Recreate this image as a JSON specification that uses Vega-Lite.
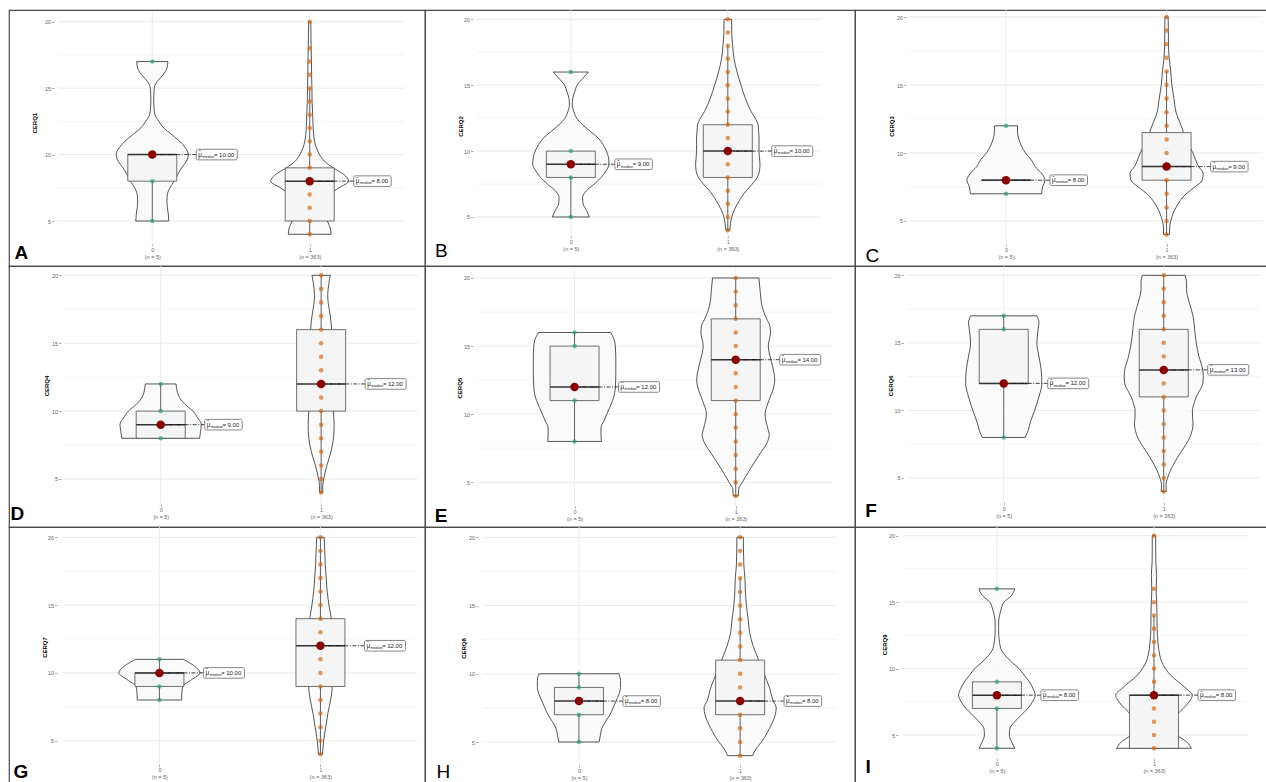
{
"$schema": "https://vega.github.io/schema/vega-lite/v6.json",
"background": "white",
"padding": {"left": 8, "top": 9, "right": 0, "bottom": 0},
"columns": 3,
"spacing": 0,
"align": "each",
"bounds": "flush",
"config": {
  "font": "Liberation Sans",
  "view": {"stroke": "#4a4a4a", "strokeWidth": 1.2},
  "axis": {"domain": false, "grid": false, "tickColor": "#9a9a9a", "tickSize": 2.5, "tickWidth": 0.8, "labelFont": "Liberation Sans", "labelFontSize": 5.5, "labelColor": "#666666", "labelPadding": 1, "titleFont": "Liberation Sans", "titleColor": "#000000"}
},
"datasets": {
  "gr": [{"y": 5}, {"y": 7.5}, {"y": 10}, {"y": 12.5}, {"y": 15}, {"y": 17.5}, {"y": 20}],
  "gx": [{"g": 0}, {"g": 1}],
  "b": [
    {"p":"A","g":0,"q1":8,"m":10,"q3":10,"wl":5,"wh":10},
    {"p":"A","g":1,"q1":5,"m":8,"q3":9,"wl":4,"wh":15},
    {"p":"B","g":0,"q1":8,"m":9,"q3":10,"wl":5,"wh":10},
    {"p":"B","g":1,"q1":8,"m":10,"q3":12,"wl":4,"wh":18},
    {"p":"C","g":0,"q1":8,"m":8,"q3":8,"wl":8,"wh":8},
    {"p":"C","g":1,"q1":8,"m":9,"q3":11.5,"wl":4,"wh":16},
    {"p":"D","g":0,"q1":8,"m":9,"q3":10,"wl":8,"wh":12},
    {"p":"D","g":1,"q1":10,"m":12,"q3":16,"wl":4,"wh":20},
    {"p":"E","g":0,"q1":11,"m":12,"q3":15,"wl":8,"wh":16},
    {"p":"E","g":1,"q1":11,"m":14,"q3":17,"wl":4,"wh":20},
    {"p":"F","g":0,"q1":12,"m":12,"q3":16,"wl":8,"wh":17},
    {"p":"F","g":1,"q1":11,"m":13,"q3":16,"wl":4,"wh":20},
    {"p":"G","g":0,"q1":9,"m":10,"q3":10,"wl":8,"wh":11},
    {"p":"G","g":1,"q1":9,"m":12,"q3":14,"wl":4,"wh":20},
    {"p":"H","g":0,"q1":7,"m":8,"q3":9,"wl":5,"wh":10},
    {"p":"H","g":1,"q1":7,"m":8,"q3":11,"wl":4,"wh":17},
    {"p":"I","g":0,"q1":7,"m":8,"q3":9,"wl":4,"wh":9},
    {"p":"I","g":1,"q1":4,"m":8,"q3":8,"wl":4,"wh":14}
  ],
  "pt": [
    {"p":"A","g":0,"y":[5,8,10,17]},
    {"p":"A","g":1,"y":[4,5,6,7,8,9,10,11,12,13,14,15,16,17,18,20]},
    {"p":"B","g":0,"y":[5,8,9,10,16]},
    {"p":"B","g":1,"y":[4,5,6,7,8,9,10,11,12,13,14,15,16,17,18,19,20]},
    {"p":"C","g":0,"y":[7,8,12]},
    {"p":"C","g":1,"y":[4,5,6,7,8,9,10,11,12,13,14,15,16,17,18,19,20]},
    {"p":"D","g":0,"y":[8,9,10,12]},
    {"p":"D","g":1,"y":[4,5,6,7,8,9,10,11,12,13,14,15,16,17,18,19,20]},
    {"p":"E","g":0,"y":[8,11,12,15,16]},
    {"p":"E","g":1,"y":[4,5,6,7,8,9,10,11,12,13,14,15,16,17,18,19,20]},
    {"p":"F","g":0,"y":[8,12,16,17]},
    {"p":"F","g":1,"y":[4,5,6,7,8,9,10,11,12,13,14,15,16,17,18,19,20]},
    {"p":"G","g":0,"y":[8,9,10,11]},
    {"p":"G","g":1,"y":[4,5,6,7,8,9,10,11,12,13,14,15,16,17,18,19,20]},
    {"p":"H","g":0,"y":[5,7,8,9,10]},
    {"p":"H","g":1,"y":[4,5,6,7,8,9,10,11,12,13,14,15,16,17,18,19,20]},
    {"p":"I","g":0,"y":[4,7,8,9,16]},
    {"p":"I","g":1,"y":[4,5,6,7,8,9,10,11,12,13,14,15,16,20]}
  ],
  "v": [
    {"p":"A","g":0,"y":[5,5.5,6,6.5,7,7.5,8,8.5,9,9.5,10,10.5,11,11.5,12,12.5,13,13.5,14,14.5,15,15.5,16,16.5,17],
     "l":[-0.105,-0.102,-0.096,-0.093,-0.096,-0.112,-0.139,-0.161,-0.186,-0.217,-0.229,-0.211,-0.174,-0.124,-0.073,-0.042,-0.017,-0.011,-0.009,-0.01,-0.012,-0.031,-0.068,-0.093,-0.099],
     "h":[0.105,0.102,0.096,0.093,0.096,0.112,0.139,0.161,0.186,0.217,0.229,0.211,0.174,0.124,0.073,0.042,0.017,0.011,0.009,0.01,0.012,0.031,0.068,0.093,0.099]},
    {"p":"A","g":1,"y":[4,4.5,5,5.5,6,6.5,7,7.5,8,8.5,9,9.5,10,10.5,11,12,13,14,15,16,17,18,19,20],
     "l":[0.864,0.87,0.888,0.901,0.901,0.892,0.87,0.814,0.752,0.783,0.851,0.907,0.938,0.957,0.969,0.978,0.981,0.985,0.986,0.988,0.989,0.991,0.992,0.993],
     "h":[1.136,1.13,1.112,1.099,1.099,1.108,1.13,1.186,1.248,1.217,1.149,1.093,1.062,1.043,1.031,1.022,1.019,1.015,1.014,1.012,1.011,1.009,1.008,1.007]},
    {"p":"B","g":0,"y":[5,5.5,6,6.5,7,7.5,8,8.5,9,9.5,10,10.5,11,11.5,12,12.5,13,13.5,14,14.5,15,15.5,16],
     "l":[-0.118,-0.1,-0.078,-0.075,-0.1,-0.149,-0.193,-0.224,-0.243,-0.24,-0.227,-0.205,-0.174,-0.124,-0.075,-0.037,-0.019,-0.009,-0.012,-0.025,-0.04,-0.075,-0.112],
     "h":[0.118,0.1,0.078,0.075,0.1,0.149,0.193,0.224,0.243,0.24,0.227,0.205,0.174,0.124,0.075,0.037,0.019,0.009,0.012,0.025,0.04,0.075,0.112]},
    {"p":"B","g":1,"y":[4,4.5,5,5.5,6,6.5,7,7.5,8,8.5,9,9.5,10,10.5,11,11.5,12,12.5,13,14,15,16,17,18,19,20],
     "l":[0.988,0.983,0.975,0.96,0.938,0.913,0.882,0.844,0.813,0.798,0.795,0.798,0.801,0.801,0.801,0.804,0.807,0.826,0.851,0.888,0.916,0.941,0.96,0.969,0.975,0.976],
     "h":[1.012,1.017,1.025,1.04,1.062,1.087,1.118,1.156,1.187,1.202,1.205,1.202,1.199,1.199,1.199,1.196,1.193,1.174,1.149,1.112,1.084,1.059,1.04,1.031,1.025,1.024]},
    {"p":"C","g":0,"y":[7,7.5,8,8.5,9,9.5,10,10.5,11,11.5,12],
     "l":[-0.222,-0.228,-0.243,-0.222,-0.182,-0.158,-0.122,-0.097,-0.081,-0.072,-0.072],
     "h":[0.222,0.228,0.243,0.222,0.182,0.158,0.122,0.097,0.081,0.072,0.072]},
    {"p":"C","g":1,"y":[4,4.5,5,6,7,7.5,8,8.5,9,10,11,12,13,14,15,16,17,18,19,20],
     "l":[0.981,0.981,0.974,0.941,0.878,0.824,0.778,0.772,0.8,0.836,0.878,0.909,0.941,0.954,0.967,0.974,0.984,0.988,0.989,0.99],
     "h":[1.019,1.019,1.026,1.059,1.122,1.176,1.222,1.228,1.2,1.164,1.122,1.091,1.059,1.046,1.033,1.026,1.016,1.012,1.011,1.01]},
    {"p":"D","g":0,"y":[8,8.5,9,9.5,10,10.5,11,11.5,12],
     "l":[-0.243,-0.248,-0.254,-0.231,-0.201,-0.152,-0.117,-0.102,-0.096],
     "h":[0.243,0.248,0.254,0.231,0.201,0.152,0.117,0.102,0.096]},
    {"p":"D","g":1,"y":[4,4.5,5,6,7,8,9,10,11,12,13,14,15,16,17,18,18.5,19,20],
     "l":[0.99,0.99,0.984,0.964,0.939,0.923,0.919,0.923,0.919,0.915,0.923,0.935,0.939,0.935,0.943,0.956,0.959,0.956,0.943],
     "h":[1.01,1.01,1.016,1.036,1.061,1.077,1.081,1.077,1.081,1.085,1.077,1.065,1.061,1.065,1.057,1.044,1.041,1.044,1.057]},
    {"p":"E","g":0,"y":[8,8.5,9,9.5,10,10.5,11,11.5,12,13,14,15,15.5,16],
     "l":[-0.167,-0.164,-0.164,-0.182,-0.2,-0.218,-0.236,-0.248,-0.253,-0.256,-0.256,-0.253,-0.245,-0.224],
     "h":[0.167,0.164,0.164,0.182,0.2,0.218,0.236,0.248,0.253,0.256,0.256,0.253,0.245,0.224]},
    {"p":"E","g":1,"y":[4,4.5,5,6,7,8,8.5,9,10,11,12,12.5,13,14,15,16,16.5,17,18,19,20],
     "l":[0.984,0.982,0.959,0.909,0.855,0.802,0.792,0.802,0.818,0.794,0.764,0.758,0.762,0.782,0.798,0.784,0.788,0.808,0.838,0.848,0.856],
     "h":[1.016,1.018,1.041,1.091,1.145,1.198,1.208,1.198,1.182,1.206,1.236,1.242,1.238,1.218,1.202,1.216,1.212,1.192,1.162,1.152,1.144]},
    {"p":"F","g":0,"y":[8,8.5,9,10,11,12,13,14,15,16,16.5,17],
     "l":[-0.134,-0.152,-0.163,-0.193,-0.22,-0.238,-0.234,-0.22,-0.207,-0.215,-0.22,-0.207],
     "h":[0.134,0.152,0.163,0.193,0.22,0.238,0.234,0.22,0.207,0.215,0.22,0.207]},
    {"p":"F","g":1,"y":[4,4.5,5,5.5,6,6.5,7,7.5,8,8.5,9,9.5,10,10.5,11,11.5,12,12.5,13,14,15,16,17,18,19,19.5,20],
     "l":[0.984,0.986,0.976,0.96,0.939,0.915,0.888,0.86,0.837,0.823,0.817,0.82,0.821,0.811,0.797,0.774,0.756,0.753,0.756,0.78,0.797,0.807,0.817,0.841,0.858,0.858,0.866],
     "h":[1.016,1.014,1.024,1.04,1.061,1.085,1.112,1.14,1.163,1.177,1.183,1.18,1.179,1.189,1.203,1.226,1.244,1.247,1.244,1.22,1.203,1.193,1.183,1.159,1.142,1.142,1.134]},
    {"p":"G","g":0,"y":[8,8.5,9,9.5,10,10.5,11],
     "l":[-0.138,-0.139,-0.145,-0.2,-0.252,-0.218,-0.149],
     "h":[0.138,0.139,0.145,0.2,0.252,0.218,0.149]},
    {"p":"G","g":1,"y":[4,5,6,7,8,9,10,11,12,13,14,15,16,17,18,19,20],
     "l":[0.987,0.98,0.967,0.954,0.937,0.927,0.933,0.944,0.933,0.924,0.933,0.947,0.958,0.964,0.97,0.973,0.977],
     "h":[1.013,1.02,1.033,1.046,1.063,1.073,1.067,1.056,1.067,1.076,1.067,1.053,1.042,1.036,1.03,1.027,1.023]},
    {"p":"H","g":0,"y":[5,5.5,6,6.5,7,7.5,8,8.5,9,9.5,10],
     "l":[-0.125,-0.133,-0.142,-0.165,-0.192,-0.212,-0.23,-0.248,-0.258,-0.258,-0.248],
     "h":[0.125,0.133,0.142,0.165,0.192,0.212,0.23,0.248,0.258,0.258,0.248]},
    {"p":"H","g":1,"y":[4,4.5,5,6,7,7.5,8,9,10,11,12,13,14,15,16,17,18,19,20],
     "l":[0.922,0.901,0.868,0.818,0.782,0.776,0.795,0.818,0.852,0.885,0.918,0.941,0.95,0.961,0.967,0.97,0.977,0.979,0.98],
     "h":[1.078,1.099,1.132,1.182,1.218,1.224,1.205,1.182,1.148,1.115,1.082,1.059,1.05,1.039,1.033,1.03,1.023,1.021,1.02]},
    {"p":"I","g":0,"y":[4,4.5,5,5.5,6,6.5,7,7.5,8,8.5,9,9.5,10,10.5,11,11.5,12,12.5,13,13.5,14,14.5,15,15.5,16],
     "l":[-0.114,-0.093,-0.079,-0.083,-0.114,-0.155,-0.197,-0.227,-0.244,-0.23,-0.207,-0.174,-0.141,-0.093,-0.052,-0.025,-0.017,-0.012,-0.011,-0.011,-0.017,-0.028,-0.045,-0.093,-0.114],
     "h":[0.114,0.093,0.079,0.083,0.114,0.155,0.197,0.227,0.244,0.23,0.207,0.174,0.141,0.093,0.052,0.025,0.017,0.012,0.011,0.011,0.017,0.028,0.045,0.093,0.114]},
    {"p":"I","g":1,"y":[4,4.5,5,5.5,6,6.5,7,7.5,8,8.5,9,9.5,10,10.5,11,12,13,14,15,16,17,18,19,20],
     "l":[0.762,0.793,0.855,0.886,0.886,0.857,0.814,0.776,0.756,0.795,0.845,0.894,0.927,0.95,0.963,0.975,0.98,0.981,0.983,0.986,0.983,0.988,0.989,0.989],
     "h":[1.238,1.207,1.145,1.114,1.114,1.143,1.186,1.224,1.244,1.205,1.155,1.106,1.073,1.05,1.037,1.025,1.02,1.019,1.017,1.014,1.017,1.012,1.011,1.011]}
  ]
},
"concat": [
{"width":416,"height":256,"layer":[
{"data":{"name":"gr"},"mark":{"type":"rule","stroke":"#e9e9e9","clip":true},"encoding":{"y":{"field":"y","type":"quantitative"},"x":{"datum":-0.6},"x2":{"datum":1.6},"strokeWidth":{"condition":{"test":"datum.y % 5 == 0","value":1},"value":0.5}}},
{"data":{"name":"gx"},"mark":{"type":"rule","stroke":"#e9e9e9","strokeWidth":0.9,"clip":true},"encoding":{"x":{"field":"g","type":"quantitative"},"y":{"datum":3.2},"y2":{"datum":20.8}}},
{"data":{"name":"v"},"transform":[{"filter":"datum.p=='A'"},{"flatten":["y","l","h"]}],"mark":{"type":"area","orient":"horizontal","interpolate":"monotone","fill":"#f9f9f9","fillOpacity":0.85,"stroke":"#2b2b2b","strokeWidth":0.8},"encoding":{"y":{"field":"y","type":"quantitative","scale":{"domain":[1.614,20.88],"nice":false,"zero":false},"axis":{"values":[5,10,15,20],"offset":-45,"title":"CERQ1","titleFontSize":6,"titleFontWeight":"bold","titleX":-19.7,"titleY":112.7,"titleAngle":-90,"titleAlign":"center","titleBaseline":"middle"}},"x":{"field":"l","type":"quantitative","scale":{"domain":[-0.8785,1.7006],"nice":false,"zero":false},"axis":{"values":[0,1],"offset":-22.5,"labelExpr":"datum.value == 0 ? ['0', '(n = 5)'] : ['1', '(n = 363)']","labelLineHeight":7,"title":"A","titleFontSize":19,"titleFontWeight":"bold","titleX":5,"titleY":14.8,"titleAlign":"left","titleBaseline":"alphabetic"}},"x2":{"field":"h"},"detail":{"field":"g","type":"nominal"}}},
{"data":{"name":"b"},"transform":[{"filter":"datum.p=='A'"}],"encoding":{"x":{"field":"g","type":"quantitative"},"y":{"field":"m","type":"quantitative"}},"layer":[
{"mark":{"type":"rule","stroke":"#3a3a3a","strokeWidth":0.8},"encoding":{"y":{"field":"wl","type":"quantitative"},"y2":{"field":"wh"}}},
{"mark":{"type":"bar","width":49,"fill":"#f5f5f5","stroke":"#4d4d4d","strokeWidth":0.8},"encoding":{"y":{"field":"q1","type":"quantitative"},"y2":{"field":"q3"}}},
{"mark":{"type":"tick","orient":"horizontal","size":49,"thickness":1.5,"color":"#333333","opacity":1}}]},
{"data":{"name":"pt"},"transform":[{"filter":"datum.p=='A'"},{"flatten":["y"]}],"mark":{"type":"circle","size":20,"opacity":0.65},"encoding":{"x":{"field":"g","type":"quantitative"},"y":{"field":"y","type":"quantitative"},"color":{"condition":{"test":"datum.g == 0","value":"#1b9e77"},"value":"#d95f02"}}},
{"data":{"name":"b"},"transform":[{"filter":"datum.p=='A'"}],"encoding":{"x":{"field":"g","type":"quantitative"},"y":{"field":"m","type":"quantitative"}},"layer":[
{"mark":{"type":"point","shape":"M0,0H44","size":4,"filled":false,"stroke":"#111111","strokeWidth":0.8,"strokeDash":[4,1.5,1,1.5],"opacity":1}},
{"mark":{"type":"circle","size":72,"color":"#8b0000","opacity":1}},
{"mark":{"type":"point","filled":true,"fill":"#ffffff","stroke":"#555555","strokeWidth":0.7,"size":4,"opacity":1},"encoding":{"shape":{"condition":{"test":"datum.m >= 10","value":"M45.5,-5.3H83.5A1.5,1.5 0 0 1 85,-3.8V3.8A1.5,1.5 0 0 1 83.5,5.3H45.5A1.5,1.5 0 0 1 44,3.8V-3.8A1.5,1.5 0 0 1 45.5,-5.3Z"},"value":"M45.5,-5.3H80A1.5,1.5 0 0 1 81.5,-3.8V3.8A1.5,1.5 0 0 1 80,5.3H45.5A1.5,1.5 0 0 1 44,3.8V-3.8A1.5,1.5 0 0 1 45.5,-5.3Z"}}},
{"mark":{"type":"text","text":"\u03bc","dx":46,"dy":0,"align":"left","baseline":"middle","fontSize":6.3,"color":"#222222"}},
{"mark":{"type":"text","text":"\u02c6","dx":46.6,"dy":-2.6,"align":"left","baseline":"middle","fontSize":5.5,"color":"#222222"}},
{"mark":{"type":"text","text":"median","dx":50,"dy":2.3,"align":"left","baseline":"middle","fontSize":3.7,"color":"#222222"}},
{"mark":{"type":"text","text":"=","dx":61.8,"align":"left","baseline":"middle","fontSize":6,"color":"#222222"}},
{"mark":{"type":"text","dx":66.8,"align":"left","baseline":"middle","fontSize":6,"color":"#222222"},"encoding":{"text":{"field":"m","type":"quantitative","format":".2f"}}}]}
]},
{"width":430,"height":256,"layer":[
{"data":{"name":"gr"},"mark":{"type":"rule","stroke":"#e9e9e9","clip":true},"encoding":{"y":{"field":"y","type":"quantitative"},"x":{"datum":-0.6},"x2":{"datum":1.6},"strokeWidth":{"condition":{"test":"datum.y % 5 == 0","value":1},"value":0.5}}},
{"data":{"name":"gx"},"mark":{"type":"rule","stroke":"#e9e9e9","strokeWidth":0.9,"clip":true},"encoding":{"x":{"field":"g","type":"quantitative"},"y":{"datum":3.2},"y2":{"datum":20.8}}},
{"data":{"name":"v"},"transform":[{"filter":"datum.p=='B'"},{"flatten":["y","l","h"]}],"mark":{"type":"area","orient":"horizontal","interpolate":"monotone","fill":"#f9f9f9","fillOpacity":0.85,"stroke":"#2b2b2b","strokeWidth":0.8},"encoding":{"y":{"field":"y","type":"quantitative","scale":{"domain":[1.282,20.706],"nice":false,"zero":false},"axis":{"values":[5,10,15,20],"offset":-48,"title":"CERQ2","titleFontSize":6,"titleFontWeight":"bold","titleX":-13,"titleY":116,"titleAngle":-90,"titleAlign":"center","titleBaseline":"middle"}},"x":{"field":"l","type":"quantitative","scale":{"domain":[-0.8973,1.7785],"nice":false,"zero":false},"axis":{"values":[0,1],"offset":-30.5,"labelExpr":"datum.value == 0 ? ['0', '(n = 5)'] : ['1', '(n = 363)']","labelLineHeight":7,"title":"B","titleFontSize":19,"titleFontWeight":"normal","titleX":9.5,"titleY":20.5,"titleAlign":"left","titleBaseline":"alphabetic"}},"x2":{"field":"h"},"detail":{"field":"g","type":"nominal"}}},
{"data":{"name":"b"},"transform":[{"filter":"datum.p=='B'"}],"encoding":{"x":{"field":"g","type":"quantitative"},"y":{"field":"m","type":"quantitative"}},"layer":[
{"mark":{"type":"rule","stroke":"#3a3a3a","strokeWidth":0.8},"encoding":{"y":{"field":"wl","type":"quantitative"},"y2":{"field":"wh"}}},
{"mark":{"type":"bar","width":49,"fill":"#f5f5f5","stroke":"#4d4d4d","strokeWidth":0.8},"encoding":{"y":{"field":"q1","type":"quantitative"},"y2":{"field":"q3"}}},
{"mark":{"type":"tick","orient":"horizontal","size":49,"thickness":1.5,"color":"#333333","opacity":1}}]},
{"data":{"name":"pt"},"transform":[{"filter":"datum.p=='B'"},{"flatten":["y"]}],"mark":{"type":"circle","size":20,"opacity":0.65},"encoding":{"x":{"field":"g","type":"quantitative"},"y":{"field":"y","type":"quantitative"},"color":{"condition":{"test":"datum.g == 0","value":"#1b9e77"},"value":"#d95f02"}}},
{"data":{"name":"b"},"transform":[{"filter":"datum.p=='B'"}],"encoding":{"x":{"field":"g","type":"quantitative"},"y":{"field":"m","type":"quantitative"}},"layer":[
{"mark":{"type":"point","shape":"M0,0H44","size":4,"filled":false,"stroke":"#111111","strokeWidth":0.8,"strokeDash":[4,1.5,1,1.5],"opacity":1}},
{"mark":{"type":"circle","size":72,"color":"#8b0000","opacity":1}},
{"mark":{"type":"point","filled":true,"fill":"#ffffff","stroke":"#555555","strokeWidth":0.7,"size":4,"opacity":1},"encoding":{"shape":{"condition":{"test":"datum.m >= 10","value":"M45.5,-5.3H83.5A1.5,1.5 0 0 1 85,-3.8V3.8A1.5,1.5 0 0 1 83.5,5.3H45.5A1.5,1.5 0 0 1 44,3.8V-3.8A1.5,1.5 0 0 1 45.5,-5.3Z"},"value":"M45.5,-5.3H80A1.5,1.5 0 0 1 81.5,-3.8V3.8A1.5,1.5 0 0 1 80,5.3H45.5A1.5,1.5 0 0 1 44,3.8V-3.8A1.5,1.5 0 0 1 45.5,-5.3Z"}}},
{"mark":{"type":"text","text":"\u03bc","dx":46,"dy":0,"align":"left","baseline":"middle","fontSize":6.3,"color":"#222222"}},
{"mark":{"type":"text","text":"\u02c6","dx":46.6,"dy":-2.6,"align":"left","baseline":"middle","fontSize":5.5,"color":"#222222"}},
{"mark":{"type":"text","text":"median","dx":50,"dy":2.3,"align":"left","baseline":"middle","fontSize":3.7,"color":"#222222"}},
{"mark":{"type":"text","text":"=","dx":61.8,"align":"left","baseline":"middle","fontSize":6,"color":"#222222"}},
{"mark":{"type":"text","dx":66.8,"align":"left","baseline":"middle","fontSize":6,"color":"#222222"},"encoding":{"text":{"field":"m","type":"quantitative","format":".2f"}}}]}
]},
{"width":412,"height":256,"layer":[
{"data":{"name":"gr"},"mark":{"type":"rule","stroke":"#e9e9e9","clip":true},"encoding":{"y":{"field":"y","type":"quantitative"},"x":{"datum":-0.6},"x2":{"datum":1.6},"strokeWidth":{"condition":{"test":"datum.y % 5 == 0","value":1},"value":0.5}}},
{"data":{"name":"gx"},"mark":{"type":"rule","stroke":"#e9e9e9","strokeWidth":0.9,"clip":true},"encoding":{"x":{"field":"g","type":"quantitative"},"y":{"datum":3.2},"y2":{"datum":20.8}}},
{"data":{"name":"v"},"transform":[{"filter":"datum.p=='C'"},{"flatten":["y","l","h"]}],"mark":{"type":"area","orient":"horizontal","interpolate":"monotone","fill":"#f9f9f9","fillOpacity":0.85,"stroke":"#2b2b2b","strokeWidth":0.8},"encoding":{"y":{"field":"y","type":"quantitative","scale":{"domain":[1.691,20.515],"nice":false,"zero":false},"axis":{"values":[5,10,15,20],"offset":-51,"title":"CERQ3","titleFontSize":6,"titleFontWeight":"bold","titleX":-14.3,"titleY":116,"titleAngle":-90,"titleAlign":"center","titleBaseline":"middle"}},"x":{"field":"l","type":"quantitative","scale":{"domain":[-0.9089,1.5942],"nice":false,"zero":false},"axis":{"values":[0,1],"offset":-22.2,"labelExpr":"datum.value == 0 ? ['0', '(n = 5)'] : ['1', '(n = 363)']","labelLineHeight":7,"title":"C","titleFontSize":19,"titleFontWeight":"normal","titleX":10,"titleY":17.2,"titleAlign":"left","titleBaseline":"alphabetic"}},"x2":{"field":"h"},"detail":{"field":"g","type":"nominal"}}},
{"data":{"name":"b"},"transform":[{"filter":"datum.p=='C'"}],"encoding":{"x":{"field":"g","type":"quantitative"},"y":{"field":"m","type":"quantitative"}},"layer":[
{"mark":{"type":"rule","stroke":"#3a3a3a","strokeWidth":0.8},"encoding":{"y":{"field":"wl","type":"quantitative"},"y2":{"field":"wh"}}},
{"mark":{"type":"bar","width":49,"fill":"#f5f5f5","stroke":"#4d4d4d","strokeWidth":0.8},"encoding":{"y":{"field":"q1","type":"quantitative"},"y2":{"field":"q3"}}},
{"mark":{"type":"tick","orient":"horizontal","size":49,"thickness":1.5,"color":"#333333","opacity":1}}]},
{"data":{"name":"pt"},"transform":[{"filter":"datum.p=='C'"},{"flatten":["y"]}],"mark":{"type":"circle","size":20,"opacity":0.65},"encoding":{"x":{"field":"g","type":"quantitative"},"y":{"field":"y","type":"quantitative"},"color":{"condition":{"test":"datum.g == 0","value":"#1b9e77"},"value":"#d95f02"}}},
{"data":{"name":"b"},"transform":[{"filter":"datum.p=='C'"}],"encoding":{"x":{"field":"g","type":"quantitative"},"y":{"field":"m","type":"quantitative"}},"layer":[
{"mark":{"type":"point","shape":"M0,0H44","size":4,"filled":false,"stroke":"#111111","strokeWidth":0.8,"strokeDash":[4,1.5,1,1.5],"opacity":1}},
{"mark":{"type":"circle","size":72,"color":"#8b0000","opacity":1}},
{"mark":{"type":"point","filled":true,"fill":"#ffffff","stroke":"#555555","strokeWidth":0.7,"size":4,"opacity":1},"encoding":{"shape":{"condition":{"test":"datum.m >= 10","value":"M45.5,-5.3H83.5A1.5,1.5 0 0 1 85,-3.8V3.8A1.5,1.5 0 0 1 83.5,5.3H45.5A1.5,1.5 0 0 1 44,3.8V-3.8A1.5,1.5 0 0 1 45.5,-5.3Z"},"value":"M45.5,-5.3H80A1.5,1.5 0 0 1 81.5,-3.8V3.8A1.5,1.5 0 0 1 80,5.3H45.5A1.5,1.5 0 0 1 44,3.8V-3.8A1.5,1.5 0 0 1 45.5,-5.3Z"}}},
{"mark":{"type":"text","text":"\u03bc","dx":46,"dy":0,"align":"left","baseline":"middle","fontSize":6.3,"color":"#222222"}},
{"mark":{"type":"text","text":"\u02c6","dx":46.6,"dy":-2.6,"align":"left","baseline":"middle","fontSize":5.5,"color":"#222222"}},
{"mark":{"type":"text","text":"median","dx":50,"dy":2.3,"align":"left","baseline":"middle","fontSize":3.7,"color":"#222222"}},
{"mark":{"type":"text","text":"=","dx":61.8,"align":"left","baseline":"middle","fontSize":6,"color":"#222222"}},
{"mark":{"type":"text","dx":66.8,"align":"left","baseline":"middle","fontSize":6,"color":"#222222"},"encoding":{"text":{"field":"m","type":"quantitative","format":".2f"}}}]}
]},
{"width":416,"height":261,"layer":[
{"data":{"name":"gr"},"mark":{"type":"rule","stroke":"#e9e9e9","clip":true},"encoding":{"y":{"field":"y","type":"quantitative"},"x":{"datum":-0.6},"x2":{"datum":1.6},"strokeWidth":{"condition":{"test":"datum.y % 5 == 0","value":1},"value":0.5}}},
{"data":{"name":"gx"},"mark":{"type":"rule","stroke":"#e9e9e9","strokeWidth":0.9,"clip":true},"encoding":{"x":{"field":"g","type":"quantitative"},"y":{"datum":3.2},"y2":{"datum":20.8}}},
{"data":{"name":"v"},"transform":[{"filter":"datum.p=='D'"},{"flatten":["y","l","h"]}],"mark":{"type":"area","orient":"horizontal","interpolate":"monotone","fill":"#f9f9f9","fillOpacity":0.85,"stroke":"#2b2b2b","strokeWidth":0.8},"encoding":{"y":{"field":"y","type":"quantitative","scale":{"domain":[1.465,20.685],"nice":false,"zero":false},"axis":{"values":[5,10,15,20],"offset":-52,"title":"CERQ4","titleFontSize":6,"titleFontWeight":"bold","titleX":-15,"titleY":119.5,"titleAngle":-90,"titleAlign":"center","titleBaseline":"middle"}},"x":{"field":"l","type":"quantitative","scale":{"domain":[-0.9142,1.6162],"nice":false,"zero":false},"axis":{"values":[0,1],"offset":-22.8,"labelExpr":"datum.value == 0 ? ['0', '(n = 5)'] : ['1', '(n = 363)']","labelLineHeight":7,"title":"D","titleFontSize":19,"titleFontWeight":"bold","titleX":1,"titleY":14.8,"titleAlign":"left","titleBaseline":"alphabetic"}},"x2":{"field":"h"},"detail":{"field":"g","type":"nominal"}}},
{"data":{"name":"b"},"transform":[{"filter":"datum.p=='D'"}],"encoding":{"x":{"field":"g","type":"quantitative"},"y":{"field":"m","type":"quantitative"}},"layer":[
{"mark":{"type":"rule","stroke":"#3a3a3a","strokeWidth":0.8},"encoding":{"y":{"field":"wl","type":"quantitative"},"y2":{"field":"wh"}}},
{"mark":{"type":"bar","width":49,"fill":"#f5f5f5","stroke":"#4d4d4d","strokeWidth":0.8},"encoding":{"y":{"field":"q1","type":"quantitative"},"y2":{"field":"q3"}}},
{"mark":{"type":"tick","orient":"horizontal","size":49,"thickness":1.5,"color":"#333333","opacity":1}}]},
{"data":{"name":"pt"},"transform":[{"filter":"datum.p=='D'"},{"flatten":["y"]}],"mark":{"type":"circle","size":20,"opacity":0.65},"encoding":{"x":{"field":"g","type":"quantitative"},"y":{"field":"y","type":"quantitative"},"color":{"condition":{"test":"datum.g == 0","value":"#1b9e77"},"value":"#d95f02"}}},
{"data":{"name":"b"},"transform":[{"filter":"datum.p=='D'"}],"encoding":{"x":{"field":"g","type":"quantitative"},"y":{"field":"m","type":"quantitative"}},"layer":[
{"mark":{"type":"point","shape":"M0,0H44","size":4,"filled":false,"stroke":"#111111","strokeWidth":0.8,"strokeDash":[4,1.5,1,1.5],"opacity":1}},
{"mark":{"type":"circle","size":72,"color":"#8b0000","opacity":1}},
{"mark":{"type":"point","filled":true,"fill":"#ffffff","stroke":"#555555","strokeWidth":0.7,"size":4,"opacity":1},"encoding":{"shape":{"condition":{"test":"datum.m >= 10","value":"M45.5,-5.3H83.5A1.5,1.5 0 0 1 85,-3.8V3.8A1.5,1.5 0 0 1 83.5,5.3H45.5A1.5,1.5 0 0 1 44,3.8V-3.8A1.5,1.5 0 0 1 45.5,-5.3Z"},"value":"M45.5,-5.3H80A1.5,1.5 0 0 1 81.5,-3.8V3.8A1.5,1.5 0 0 1 80,5.3H45.5A1.5,1.5 0 0 1 44,3.8V-3.8A1.5,1.5 0 0 1 45.5,-5.3Z"}}},
{"mark":{"type":"text","text":"\u03bc","dx":46,"dy":0,"align":"left","baseline":"middle","fontSize":6.3,"color":"#222222"}},
{"mark":{"type":"text","text":"\u02c6","dx":46.6,"dy":-2.6,"align":"left","baseline":"middle","fontSize":5.5,"color":"#222222"}},
{"mark":{"type":"text","text":"median","dx":50,"dy":2.3,"align":"left","baseline":"middle","fontSize":3.7,"color":"#222222"}},
{"mark":{"type":"text","text":"=","dx":61.8,"align":"left","baseline":"middle","fontSize":6,"color":"#222222"}},
{"mark":{"type":"text","dx":66.8,"align":"left","baseline":"middle","fontSize":6,"color":"#222222"},"encoding":{"text":{"field":"m","type":"quantitative","format":".2f"}}}]}
]},
{"width":430,"height":261,"layer":[
{"data":{"name":"gr"},"mark":{"type":"rule","stroke":"#e9e9e9","clip":true},"encoding":{"y":{"field":"y","type":"quantitative"},"x":{"datum":-0.6},"x2":{"datum":1.6},"strokeWidth":{"condition":{"test":"datum.y % 5 == 0","value":1},"value":0.5}}},
{"data":{"name":"gx"},"mark":{"type":"rule","stroke":"#e9e9e9","strokeWidth":0.9,"clip":true},"encoding":{"x":{"field":"g","type":"quantitative"},"y":{"datum":3.2},"y2":{"datum":20.8}}},
{"data":{"name":"v"},"transform":[{"filter":"datum.p=='E'"},{"flatten":["y","l","h"]}],"mark":{"type":"area","orient":"horizontal","interpolate":"monotone","fill":"#f9f9f9","fillOpacity":0.85,"stroke":"#2b2b2b","strokeWidth":0.8},"encoding":{"y":{"field":"y","type":"quantitative","scale":{"domain":[1.718,20.881],"nice":false,"zero":false},"axis":{"values":[5,10,15,20],"offset":-48,"title":"CERQ5","titleFontSize":6,"titleFontWeight":"bold","titleX":-13.3,"titleY":121.7,"titleAngle":-90,"titleAlign":"center","titleBaseline":"middle"}},"x":{"field":"l","type":"quantitative","scale":{"domain":[-0.897,1.7091],"nice":false,"zero":false},"axis":{"values":[0,1],"offset":-21.2,"labelExpr":"datum.value == 0 ? ['0', '(n = 5)'] : ['1', '(n = 363)']","labelLineHeight":7,"title":"E","titleFontSize":19,"titleFontWeight":"bold","titleX":9.2,"titleY":15.5,"titleAlign":"left","titleBaseline":"alphabetic"}},"x2":{"field":"h"},"detail":{"field":"g","type":"nominal"}}},
{"data":{"name":"b"},"transform":[{"filter":"datum.p=='E'"}],"encoding":{"x":{"field":"g","type":"quantitative"},"y":{"field":"m","type":"quantitative"}},"layer":[
{"mark":{"type":"rule","stroke":"#3a3a3a","strokeWidth":0.8},"encoding":{"y":{"field":"wl","type":"quantitative"},"y2":{"field":"wh"}}},
{"mark":{"type":"bar","width":49,"fill":"#f5f5f5","stroke":"#4d4d4d","strokeWidth":0.8},"encoding":{"y":{"field":"q1","type":"quantitative"},"y2":{"field":"q3"}}},
{"mark":{"type":"tick","orient":"horizontal","size":49,"thickness":1.5,"color":"#333333","opacity":1}}]},
{"data":{"name":"pt"},"transform":[{"filter":"datum.p=='E'"},{"flatten":["y"]}],"mark":{"type":"circle","size":20,"opacity":0.65},"encoding":{"x":{"field":"g","type":"quantitative"},"y":{"field":"y","type":"quantitative"},"color":{"condition":{"test":"datum.g == 0","value":"#1b9e77"},"value":"#d95f02"}}},
{"data":{"name":"b"},"transform":[{"filter":"datum.p=='E'"}],"encoding":{"x":{"field":"g","type":"quantitative"},"y":{"field":"m","type":"quantitative"}},"layer":[
{"mark":{"type":"point","shape":"M0,0H44","size":4,"filled":false,"stroke":"#111111","strokeWidth":0.8,"strokeDash":[4,1.5,1,1.5],"opacity":1}},
{"mark":{"type":"circle","size":72,"color":"#8b0000","opacity":1}},
{"mark":{"type":"point","filled":true,"fill":"#ffffff","stroke":"#555555","strokeWidth":0.7,"size":4,"opacity":1},"encoding":{"shape":{"condition":{"test":"datum.m >= 10","value":"M45.5,-5.3H83.5A1.5,1.5 0 0 1 85,-3.8V3.8A1.5,1.5 0 0 1 83.5,5.3H45.5A1.5,1.5 0 0 1 44,3.8V-3.8A1.5,1.5 0 0 1 45.5,-5.3Z"},"value":"M45.5,-5.3H80A1.5,1.5 0 0 1 81.5,-3.8V3.8A1.5,1.5 0 0 1 80,5.3H45.5A1.5,1.5 0 0 1 44,3.8V-3.8A1.5,1.5 0 0 1 45.5,-5.3Z"}}},
{"mark":{"type":"text","text":"\u03bc","dx":46,"dy":0,"align":"left","baseline":"middle","fontSize":6.3,"color":"#222222"}},
{"mark":{"type":"text","text":"\u02c6","dx":46.6,"dy":-2.6,"align":"left","baseline":"middle","fontSize":5.5,"color":"#222222"}},
{"mark":{"type":"text","text":"median","dx":50,"dy":2.3,"align":"left","baseline":"middle","fontSize":3.7,"color":"#222222"}},
{"mark":{"type":"text","text":"=","dx":61.8,"align":"left","baseline":"middle","fontSize":6,"color":"#222222"}},
{"mark":{"type":"text","dx":66.8,"align":"left","baseline":"middle","fontSize":6,"color":"#222222"},"encoding":{"text":{"field":"m","type":"quantitative","format":".2f"}}}]}
]},
{"width":412,"height":261,"layer":[
{"data":{"name":"gr"},"mark":{"type":"rule","stroke":"#e9e9e9","clip":true},"encoding":{"y":{"field":"y","type":"quantitative"},"x":{"datum":-0.6},"x2":{"datum":1.6},"strokeWidth":{"condition":{"test":"datum.y % 5 == 0","value":1},"value":0.5}}},
{"data":{"name":"gx"},"mark":{"type":"rule","stroke":"#e9e9e9","strokeWidth":0.9,"clip":true},"encoding":{"x":{"field":"g","type":"quantitative"},"y":{"datum":3.2},"y2":{"datum":20.8}}},
{"data":{"name":"v"},"transform":[{"filter":"datum.p=='F'"},{"flatten":["y","l","h"]}],"mark":{"type":"area","orient":"horizontal","interpolate":"monotone","fill":"#f9f9f9","fillOpacity":0.85,"stroke":"#2b2b2b","strokeWidth":0.8},"encoding":{"y":{"field":"y","type":"quantitative","scale":{"domain":[1.373,20.688],"nice":false,"zero":false},"axis":{"values":[5,10,15,20],"offset":-48.5,"title":"CERQ6","titleFontSize":6,"titleFontWeight":"bold","titleX":-12.7,"titleY":119.3,"titleAngle":-90,"titleAlign":"center","titleBaseline":"middle"}},"x":{"field":"l","type":"quantitative","scale":{"domain":[-0.8982,1.614],"nice":false,"zero":false},"axis":{"values":[0,1],"offset":-24.5,"labelExpr":"datum.value == 0 ? ['0', '(n = 5)'] : ['1', '(n = 363)']","labelLineHeight":7,"title":"F","titleFontSize":19,"titleFontWeight":"bold","titleX":9.8,"titleY":13.8,"titleAlign":"left","titleBaseline":"alphabetic"}},"x2":{"field":"h"},"detail":{"field":"g","type":"nominal"}}},
{"data":{"name":"b"},"transform":[{"filter":"datum.p=='F'"}],"encoding":{"x":{"field":"g","type":"quantitative"},"y":{"field":"m","type":"quantitative"}},"layer":[
{"mark":{"type":"rule","stroke":"#3a3a3a","strokeWidth":0.8},"encoding":{"y":{"field":"wl","type":"quantitative"},"y2":{"field":"wh"}}},
{"mark":{"type":"bar","width":49,"fill":"#f5f5f5","stroke":"#4d4d4d","strokeWidth":0.8},"encoding":{"y":{"field":"q1","type":"quantitative"},"y2":{"field":"q3"}}},
{"mark":{"type":"tick","orient":"horizontal","size":49,"thickness":1.5,"color":"#333333","opacity":1}}]},
{"data":{"name":"pt"},"transform":[{"filter":"datum.p=='F'"},{"flatten":["y"]}],"mark":{"type":"circle","size":20,"opacity":0.65},"encoding":{"x":{"field":"g","type":"quantitative"},"y":{"field":"y","type":"quantitative"},"color":{"condition":{"test":"datum.g == 0","value":"#1b9e77"},"value":"#d95f02"}}},
{"data":{"name":"b"},"transform":[{"filter":"datum.p=='F'"}],"encoding":{"x":{"field":"g","type":"quantitative"},"y":{"field":"m","type":"quantitative"}},"layer":[
{"mark":{"type":"point","shape":"M0,0H44","size":4,"filled":false,"stroke":"#111111","strokeWidth":0.8,"strokeDash":[4,1.5,1,1.5],"opacity":1}},
{"mark":{"type":"circle","size":72,"color":"#8b0000","opacity":1}},
{"mark":{"type":"point","filled":true,"fill":"#ffffff","stroke":"#555555","strokeWidth":0.7,"size":4,"opacity":1},"encoding":{"shape":{"condition":{"test":"datum.m >= 10","value":"M45.5,-5.3H83.5A1.5,1.5 0 0 1 85,-3.8V3.8A1.5,1.5 0 0 1 83.5,5.3H45.5A1.5,1.5 0 0 1 44,3.8V-3.8A1.5,1.5 0 0 1 45.5,-5.3Z"},"value":"M45.5,-5.3H80A1.5,1.5 0 0 1 81.5,-3.8V3.8A1.5,1.5 0 0 1 80,5.3H45.5A1.5,1.5 0 0 1 44,3.8V-3.8A1.5,1.5 0 0 1 45.5,-5.3Z"}}},
{"mark":{"type":"text","text":"\u03bc","dx":46,"dy":0,"align":"left","baseline":"middle","fontSize":6.3,"color":"#222222"}},
{"mark":{"type":"text","text":"\u02c6","dx":46.6,"dy":-2.6,"align":"left","baseline":"middle","fontSize":5.5,"color":"#222222"}},
{"mark":{"type":"text","text":"median","dx":50,"dy":2.3,"align":"left","baseline":"middle","fontSize":3.7,"color":"#222222"}},
{"mark":{"type":"text","text":"=","dx":61.8,"align":"left","baseline":"middle","fontSize":6,"color":"#222222"}},
{"mark":{"type":"text","dx":66.8,"align":"left","baseline":"middle","fontSize":6,"color":"#222222"},"encoding":{"text":{"field":"m","type":"quantitative","format":".2f"}}}]}
]},
{"width":416,"height":256,"layer":[
{"data":{"name":"gr"},"mark":{"type":"rule","stroke":"#e9e9e9","clip":true},"encoding":{"y":{"field":"y","type":"quantitative"},"x":{"datum":-0.6},"x2":{"datum":1.6},"strokeWidth":{"condition":{"test":"datum.y % 5 == 0","value":1},"value":0.5}}},
{"data":{"name":"gx"},"mark":{"type":"rule","stroke":"#e9e9e9","strokeWidth":0.9,"clip":true},"encoding":{"x":{"field":"g","type":"quantitative"},"y":{"datum":3.2},"y2":{"datum":20.8}}},
{"data":{"name":"v"},"transform":[{"filter":"datum.p=='G'"},{"flatten":["y","l","h"]}],"mark":{"type":"area","orient":"horizontal","interpolate":"monotone","fill":"#f9f9f9","fillOpacity":0.85,"stroke":"#2b2b2b","strokeWidth":0.8},"encoding":{"y":{"field":"y","type":"quantitative","scale":{"domain":[1.88,20.76],"nice":false,"zero":false},"axis":{"values":[5,10,15,20],"offset":-48,"title":"CERQ7","titleFontSize":6,"titleFontWeight":"bold","titleX":-12.3,"titleY":120,"titleAngle":-90,"titleAlign":"center","titleBaseline":"middle"}},"x":{"field":"l","type":"quantitative","scale":{"domain":[-0.903,1.6182],"nice":false,"zero":false},"axis":{"values":[0,1],"offset":-18.8,"labelExpr":"datum.value == 0 ? ['0', '(n = 5)'] : ['1', '(n = 363)']","labelLineHeight":7,"title":"G","titleFontSize":19,"titleFontWeight":"bold","titleX":4,"titleY":13.5,"titleAlign":"left","titleBaseline":"alphabetic"}},"x2":{"field":"h"},"detail":{"field":"g","type":"nominal"}}},
{"data":{"name":"b"},"transform":[{"filter":"datum.p=='G'"}],"encoding":{"x":{"field":"g","type":"quantitative"},"y":{"field":"m","type":"quantitative"}},"layer":[
{"mark":{"type":"rule","stroke":"#3a3a3a","strokeWidth":0.8},"encoding":{"y":{"field":"wl","type":"quantitative"},"y2":{"field":"wh"}}},
{"mark":{"type":"bar","width":49,"fill":"#f5f5f5","stroke":"#4d4d4d","strokeWidth":0.8},"encoding":{"y":{"field":"q1","type":"quantitative"},"y2":{"field":"q3"}}},
{"mark":{"type":"tick","orient":"horizontal","size":49,"thickness":1.5,"color":"#333333","opacity":1}}]},
{"data":{"name":"pt"},"transform":[{"filter":"datum.p=='G'"},{"flatten":["y"]}],"mark":{"type":"circle","size":20,"opacity":0.65},"encoding":{"x":{"field":"g","type":"quantitative"},"y":{"field":"y","type":"quantitative"},"color":{"condition":{"test":"datum.g == 0","value":"#1b9e77"},"value":"#d95f02"}}},
{"data":{"name":"b"},"transform":[{"filter":"datum.p=='G'"}],"encoding":{"x":{"field":"g","type":"quantitative"},"y":{"field":"m","type":"quantitative"}},"layer":[
{"mark":{"type":"point","shape":"M0,0H44","size":4,"filled":false,"stroke":"#111111","strokeWidth":0.8,"strokeDash":[4,1.5,1,1.5],"opacity":1}},
{"mark":{"type":"circle","size":72,"color":"#8b0000","opacity":1}},
{"mark":{"type":"point","filled":true,"fill":"#ffffff","stroke":"#555555","strokeWidth":0.7,"size":4,"opacity":1},"encoding":{"shape":{"condition":{"test":"datum.m >= 10","value":"M45.5,-5.3H83.5A1.5,1.5 0 0 1 85,-3.8V3.8A1.5,1.5 0 0 1 83.5,5.3H45.5A1.5,1.5 0 0 1 44,3.8V-3.8A1.5,1.5 0 0 1 45.5,-5.3Z"},"value":"M45.5,-5.3H80A1.5,1.5 0 0 1 81.5,-3.8V3.8A1.5,1.5 0 0 1 80,5.3H45.5A1.5,1.5 0 0 1 44,3.8V-3.8A1.5,1.5 0 0 1 45.5,-5.3Z"}}},
{"mark":{"type":"text","text":"\u03bc","dx":46,"dy":0,"align":"left","baseline":"middle","fontSize":6.3,"color":"#222222"}},
{"mark":{"type":"text","text":"\u02c6","dx":46.6,"dy":-2.6,"align":"left","baseline":"middle","fontSize":5.5,"color":"#222222"}},
{"mark":{"type":"text","text":"median","dx":50,"dy":2.3,"align":"left","baseline":"middle","fontSize":3.7,"color":"#222222"}},
{"mark":{"type":"text","text":"=","dx":61.8,"align":"left","baseline":"middle","fontSize":6,"color":"#222222"}},
{"mark":{"type":"text","dx":66.8,"align":"left","baseline":"middle","fontSize":6,"color":"#222222"},"encoding":{"text":{"field":"m","type":"quantitative","format":".2f"}}}]}
]},
{"width":430,"height":256,"layer":[
{"data":{"name":"gr"},"mark":{"type":"rule","stroke":"#e9e9e9","clip":true},"encoding":{"y":{"field":"y","type":"quantitative"},"x":{"datum":-0.6},"x2":{"datum":1.6},"strokeWidth":{"condition":{"test":"datum.y % 5 == 0","value":1},"value":0.5}}},
{"data":{"name":"gx"},"mark":{"type":"rule","stroke":"#e9e9e9","strokeWidth":0.9,"clip":true},"encoding":{"x":{"field":"g","type":"quantitative"},"y":{"datum":3.2},"y2":{"datum":20.8}}},
{"data":{"name":"v"},"transform":[{"filter":"datum.p=='H'"},{"flatten":["y","l","h"]}],"mark":{"type":"area","orient":"horizontal","interpolate":"monotone","fill":"#f9f9f9","fillOpacity":0.85,"stroke":"#2b2b2b","strokeWidth":0.8},"encoding":{"y":{"field":"y","type":"quantitative","scale":{"domain":[1.996,20.755],"nice":false,"zero":false},"axis":{"values":[5,10,15,20],"offset":-53,"title":"CERQ8","titleFontSize":6,"titleFontWeight":"bold","titleX":-14.1,"titleY":121,"titleAngle":-90,"titleAlign":"center","titleBaseline":"middle"}},"x":{"field":"l","type":"quantitative","scale":{"domain":[-0.9242,1.6818],"nice":false,"zero":false},"axis":{"values":[0,1],"offset":-18.2,"labelExpr":"datum.value == 0 ? ['0', '(n = 5)'] : ['1', '(n = 363)']","labelLineHeight":7,"title":"H","titleFontSize":19,"titleFontWeight":"normal","titleX":11,"titleY":13,"titleAlign":"left","titleBaseline":"alphabetic"}},"x2":{"field":"h"},"detail":{"field":"g","type":"nominal"}}},
{"data":{"name":"b"},"transform":[{"filter":"datum.p=='H'"}],"encoding":{"x":{"field":"g","type":"quantitative"},"y":{"field":"m","type":"quantitative"}},"layer":[
{"mark":{"type":"rule","stroke":"#3a3a3a","strokeWidth":0.8},"encoding":{"y":{"field":"wl","type":"quantitative"},"y2":{"field":"wh"}}},
{"mark":{"type":"bar","width":49,"fill":"#f5f5f5","stroke":"#4d4d4d","strokeWidth":0.8},"encoding":{"y":{"field":"q1","type":"quantitative"},"y2":{"field":"q3"}}},
{"mark":{"type":"tick","orient":"horizontal","size":49,"thickness":1.5,"color":"#333333","opacity":1}}]},
{"data":{"name":"pt"},"transform":[{"filter":"datum.p=='H'"},{"flatten":["y"]}],"mark":{"type":"circle","size":20,"opacity":0.65},"encoding":{"x":{"field":"g","type":"quantitative"},"y":{"field":"y","type":"quantitative"},"color":{"condition":{"test":"datum.g == 0","value":"#1b9e77"},"value":"#d95f02"}}},
{"data":{"name":"b"},"transform":[{"filter":"datum.p=='H'"}],"encoding":{"x":{"field":"g","type":"quantitative"},"y":{"field":"m","type":"quantitative"}},"layer":[
{"mark":{"type":"point","shape":"M0,0H44","size":4,"filled":false,"stroke":"#111111","strokeWidth":0.8,"strokeDash":[4,1.5,1,1.5],"opacity":1}},
{"mark":{"type":"circle","size":72,"color":"#8b0000","opacity":1}},
{"mark":{"type":"point","filled":true,"fill":"#ffffff","stroke":"#555555","strokeWidth":0.7,"size":4,"opacity":1},"encoding":{"shape":{"condition":{"test":"datum.m >= 10","value":"M45.5,-5.3H83.5A1.5,1.5 0 0 1 85,-3.8V3.8A1.5,1.5 0 0 1 83.5,5.3H45.5A1.5,1.5 0 0 1 44,3.8V-3.8A1.5,1.5 0 0 1 45.5,-5.3Z"},"value":"M45.5,-5.3H80A1.5,1.5 0 0 1 81.5,-3.8V3.8A1.5,1.5 0 0 1 80,5.3H45.5A1.5,1.5 0 0 1 44,3.8V-3.8A1.5,1.5 0 0 1 45.5,-5.3Z"}}},
{"mark":{"type":"text","text":"\u03bc","dx":46,"dy":0,"align":"left","baseline":"middle","fontSize":6.3,"color":"#222222"}},
{"mark":{"type":"text","text":"\u02c6","dx":46.6,"dy":-2.6,"align":"left","baseline":"middle","fontSize":5.5,"color":"#222222"}},
{"mark":{"type":"text","text":"median","dx":50,"dy":2.3,"align":"left","baseline":"middle","fontSize":3.7,"color":"#222222"}},
{"mark":{"type":"text","text":"=","dx":61.8,"align":"left","baseline":"middle","fontSize":6,"color":"#222222"}},
{"mark":{"type":"text","dx":66.8,"align":"left","baseline":"middle","fontSize":6,"color":"#222222"},"encoding":{"text":{"field":"m","type":"quantitative","format":".2f"}}}]}
]},
{"width":412,"height":256,"layer":[
{"data":{"name":"gr"},"mark":{"type":"rule","stroke":"#e9e9e9","clip":true},"encoding":{"y":{"field":"y","type":"quantitative"},"x":{"datum":-0.6},"x2":{"datum":1.6},"strokeWidth":{"condition":{"test":"datum.y % 5 == 0","value":1},"value":0.5}}},
{"data":{"name":"gx"},"mark":{"type":"rule","stroke":"#e9e9e9","strokeWidth":0.9,"clip":true},"encoding":{"x":{"field":"g","type":"quantitative"},"y":{"datum":3.2},"y2":{"datum":20.8}}},
{"data":{"name":"v"},"transform":[{"filter":"datum.p=='I'"},{"flatten":["y","l","h"]}],"mark":{"type":"area","orient":"horizontal","interpolate":"monotone","fill":"#f9f9f9","fillOpacity":0.85,"stroke":"#2b2b2b","strokeWidth":0.8},"encoding":{"y":{"field":"y","type":"quantitative","scale":{"domain":[1.388,20.655],"nice":false,"zero":false},"axis":{"values":[5,10,15,20],"offset":-43,"title":"CERQ9","titleFontSize":6,"titleFontWeight":"bold","titleX":-13.3,"titleY":117.3,"titleAngle":-90,"titleAlign":"center","titleBaseline":"middle"}},"x":{"field":"l","type":"quantitative","scale":{"domain":[-0.8714,1.6876],"nice":false,"zero":false},"axis":{"values":[0,1],"offset":-24.8,"labelExpr":"datum.value == 0 ? ['0', '(n = 5)'] : ['1', '(n = 363)']","labelLineHeight":7,"title":"I","titleFontSize":19,"titleFontWeight":"bold","titleX":10,"titleY":14.5,"titleAlign":"left","titleBaseline":"alphabetic"}},"x2":{"field":"h"},"detail":{"field":"g","type":"nominal"}}},
{"data":{"name":"b"},"transform":[{"filter":"datum.p=='I'"}],"encoding":{"x":{"field":"g","type":"quantitative"},"y":{"field":"m","type":"quantitative"}},"layer":[
{"mark":{"type":"rule","stroke":"#3a3a3a","strokeWidth":0.8},"encoding":{"y":{"field":"wl","type":"quantitative"},"y2":{"field":"wh"}}},
{"mark":{"type":"bar","width":49,"fill":"#f5f5f5","stroke":"#4d4d4d","strokeWidth":0.8},"encoding":{"y":{"field":"q1","type":"quantitative"},"y2":{"field":"q3"}}},
{"mark":{"type":"tick","orient":"horizontal","size":49,"thickness":1.5,"color":"#333333","opacity":1}}]},
{"data":{"name":"pt"},"transform":[{"filter":"datum.p=='I'"},{"flatten":["y"]}],"mark":{"type":"circle","size":20,"opacity":0.65},"encoding":{"x":{"field":"g","type":"quantitative"},"y":{"field":"y","type":"quantitative"},"color":{"condition":{"test":"datum.g == 0","value":"#1b9e77"},"value":"#d95f02"}}},
{"data":{"name":"b"},"transform":[{"filter":"datum.p=='I'"}],"encoding":{"x":{"field":"g","type":"quantitative"},"y":{"field":"m","type":"quantitative"}},"layer":[
{"mark":{"type":"point","shape":"M0,0H44","size":4,"filled":false,"stroke":"#111111","strokeWidth":0.8,"strokeDash":[4,1.5,1,1.5],"opacity":1}},
{"mark":{"type":"circle","size":72,"color":"#8b0000","opacity":1}},
{"mark":{"type":"point","filled":true,"fill":"#ffffff","stroke":"#555555","strokeWidth":0.7,"size":4,"opacity":1},"encoding":{"shape":{"condition":{"test":"datum.m >= 10","value":"M45.5,-5.3H83.5A1.5,1.5 0 0 1 85,-3.8V3.8A1.5,1.5 0 0 1 83.5,5.3H45.5A1.5,1.5 0 0 1 44,3.8V-3.8A1.5,1.5 0 0 1 45.5,-5.3Z"},"value":"M45.5,-5.3H80A1.5,1.5 0 0 1 81.5,-3.8V3.8A1.5,1.5 0 0 1 80,5.3H45.5A1.5,1.5 0 0 1 44,3.8V-3.8A1.5,1.5 0 0 1 45.5,-5.3Z"}}},
{"mark":{"type":"text","text":"\u03bc","dx":46,"dy":0,"align":"left","baseline":"middle","fontSize":6.3,"color":"#222222"}},
{"mark":{"type":"text","text":"\u02c6","dx":46.6,"dy":-2.6,"align":"left","baseline":"middle","fontSize":5.5,"color":"#222222"}},
{"mark":{"type":"text","text":"median","dx":50,"dy":2.3,"align":"left","baseline":"middle","fontSize":3.7,"color":"#222222"}},
{"mark":{"type":"text","text":"=","dx":61.8,"align":"left","baseline":"middle","fontSize":6,"color":"#222222"}},
{"mark":{"type":"text","dx":66.8,"align":"left","baseline":"middle","fontSize":6,"color":"#222222"},"encoding":{"text":{"field":"m","type":"quantitative","format":".2f"}}}]}
]}
]
}
